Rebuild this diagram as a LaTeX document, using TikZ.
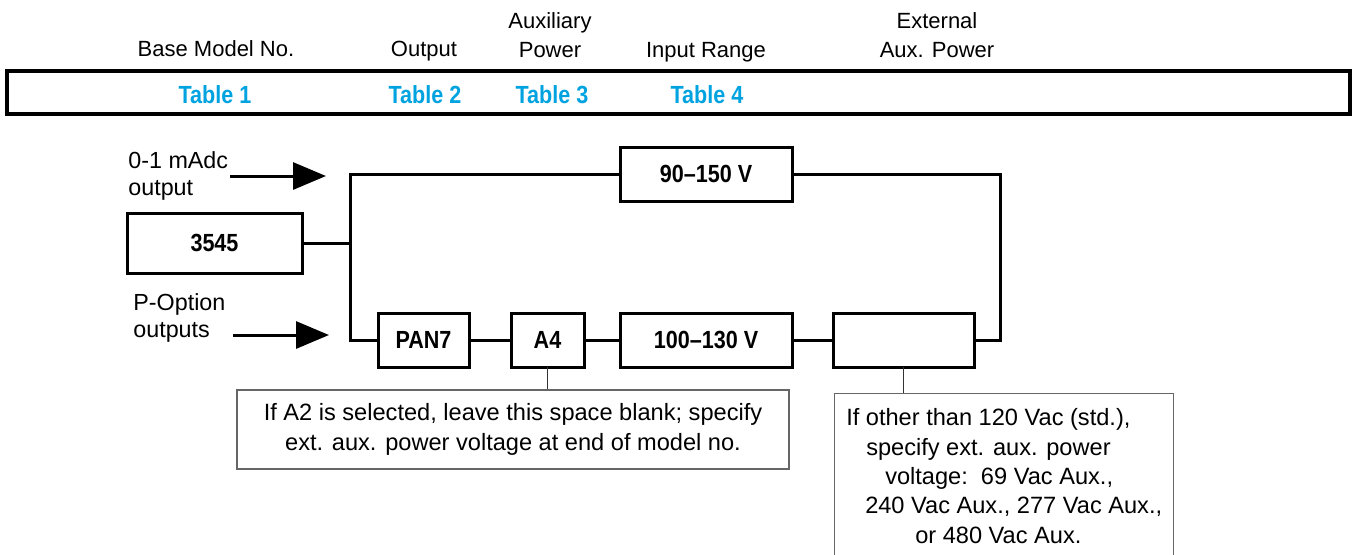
\documentclass[tikz,border=0pt]{standalone}
\usepackage{fontspec}
\setmainfont{Liberation Sans}
\newfontfamily\condfont{Liberation Sans}[FakeStretch=0.87]
\usetikzlibrary{positioning,arrows.meta}
\definecolor{tablecyan}{RGB}{0,163,224}

\begin{document}
\begin{tikzpicture}[x=0.5pt, y=-0.5pt,
    unitbox/.style={draw, line width=1.5pt, minimum height=27pt, inner sep=0pt, outer sep=0pt,
        font={\fontsize{12.4}{14}\condfont\bfseries}},
    hdr/.style={font={\fontsize{11}{14.5}\selectfont}, align=center, inner sep=0pt},
    tbl/.style={font={\fontsize{12.4}{14}\condfont\bfseries}, text=tablecyan, inner sep=0pt},
    lbl/.style={font={\fontsize{11.65}{13.5}\selectfont}, align=left, inner sep=0pt},
    note/.style={draw=black!60, line width=0.7pt, font={\fontsize{11.8}{14.65}\selectfont}},
    wire/.style={line width=1.5pt},
    tap/.style={line width=0.6pt, draw=black!80},
    feed/.style={line width=1.5pt, -{Triangle[length=16.5pt, width=13.5pt]}}]

    \useasboundingbox (0,0) rectangle (1353,554);
    \clip (0,0) rectangle (1353,554);

    % Column headings
    \node[hdr, anchor=base] (hbase) at (216,56) {Base Model No.};
    \node[hdr, anchor=base] (hout) at (424,56) {Output};
    \node[hdr, anchor=base] (haux) at (550,57) {Auxiliary\\Power};
    \node[hdr, anchor=base] (hin) at (706,57) {Input Range};
    \node[hdr, anchor=base] (hext) at (937,57) {External\\Aux. Power};

    % Model number bar
    \node[draw, line width=1.6pt, minimum width=671.5pt, minimum height=21.5pt, inner sep=0pt] (bar) at (678.5,92.5) {};
    \node[tbl, anchor=base] (tab1) at (215,103) {Table 1};
    \node[tbl, anchor=base] (tab2) at (425,103) {Table 2};
    \node[tbl, anchor=base] (tab3) at (552,103) {Table 3};
    \node[tbl, anchor=base] (tab4) at (707,103) {Table 4};

    % Inputs
    \node[lbl, anchor=base west] (madc) at (128,195) {0-1 mAdc\\output};
    \node[lbl, anchor=base west] (popt) at (133,337) {P-Option\\outputs};
    \coordinate (madcin) at (230,176);
    \coordinate (madcout) at (326,176);
    \coordinate (poptin) at (233,335);
    \coordinate (poptout) at (329,335);

    % Units
    \node[unitbox, minimum width=87.5pt, minimum height=30pt] (base) at (214.5,243) {3545};
    \node[unitbox, minimum width=45.5pt] (pan) at (423.5,340) {PAN7};
    \node[unitbox, minimum width=36.5pt, right=21pt of pan] (aux) {A4};
    \node[unitbox, minimum width=86pt, right=18pt of aux] (rng) {100–130 V};
    \node[unitbox, minimum width=70.5pt, right=20.5pt of rng] (ext) {};
    \node[unitbox, minimum width=86pt, above=56pt of rng] (rngtop) {90–150 V};

    % Notes
    \node[note, minimum width=276pt, minimum height=39.5pt, align=center] (auxnote) at (513,429.5)
        {If A2 is selected, leave this space blank; specify\\ext. aux. power voltage at end of model no.};
    \node[note, minimum width=169.5pt, inner ysep=7.5pt, align=left, anchor=north west] (extnote) at (834,393)
        {If other than 120 Vac (std.),\\
         \hspace*{10pt}specify ext. aux. power\\
         \hspace*{19.5pt}voltage:\ \ 69 Vac Aux.,\\
         \hspace*{9.5pt}240 Vac Aux., 277 Vac Aux.,\\
         \hspace*{34.5pt}or 480 Vac Aux.};

    % Connections
    \coordinate (split) at (350,243);
    \coordinate (rjoin) at (1000,257);
    \draw[feed] (madcin) -- (madcout);
    \draw[feed] (poptin) -- (poptout);
    \draw[wire] (base) -- (split);
    \draw[wire] (rngtop) -| (split) |- (pan);
    \draw[wire] (pan) -- (aux) -- (rng) -- (ext);
    \draw[wire] (rngtop) -| (rjoin) |- (ext);
    \draw[tap] (aux) -- (aux |- auxnote.north);
    \draw[tap] (ext) -- (ext |- extnote.north);

\end{tikzpicture}
\end{document}
